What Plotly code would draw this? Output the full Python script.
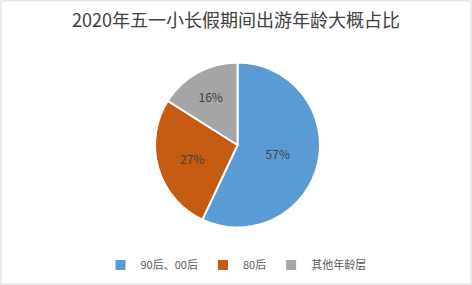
import plotly.graph_objects as go

categories = ["90后、00后", "80后", "其他年龄层"]
values = [57, 27, 16]
colors = ["#5B9BD5", "#C55A11", "#A5A5A5"]
title_text = "2020年五一小长假期间出游年龄大概占比"

W, H = 472, 285
font_family = "Noto Sans CJK SC, Noto Sans, sans-serif"

fig = go.Figure(go.Pie(
    labels=categories,
    values=values,
    sort=False,
    direction="clockwise",
    rotation=0,
    marker=dict(colors=colors, line=dict(color="white", width=2)),
    texttemplate="%{percent:.0%}",
    textposition="inside",
    insidetextorientation="horizontal",
    textfont=dict(color="#404040", size=12, family=font_family),
    domain=dict(x=[155 / W, 320 / W], y=[1 - 228 / H, 1 - 62 / H]),
    hoverinfo="label+percent",
))

fig.update_layout(
    width=W, height=H,
    margin=dict(l=0, r=0, t=0, b=0),
    paper_bgcolor="white",
    plot_bgcolor="white",
    title=dict(text=title_text, x=0.5, xanchor="center", y=1 - 21 / H, yanchor="middle",
               font=dict(size=18, color="#404040", family=font_family)),
    legend=dict(orientation="h", x=0.5, xanchor="center", y=1 - 265 / H, yanchor="middle",
                font=dict(size=11, color="#595959", family=font_family),
                itemwidth=30, traceorder="normal"),
    shapes=[dict(type="rect", xref="paper", yref="paper", x0=0.002, x1=0.998, y0=0.003, y1=0.997,
                 line=dict(color="#D9D9D9", width=1))],
)

fig.write_html("out.html", config={"displayModeBar": False},
               post_script="document.body.style.margin='0';document.body.style.overflow='hidden';")
